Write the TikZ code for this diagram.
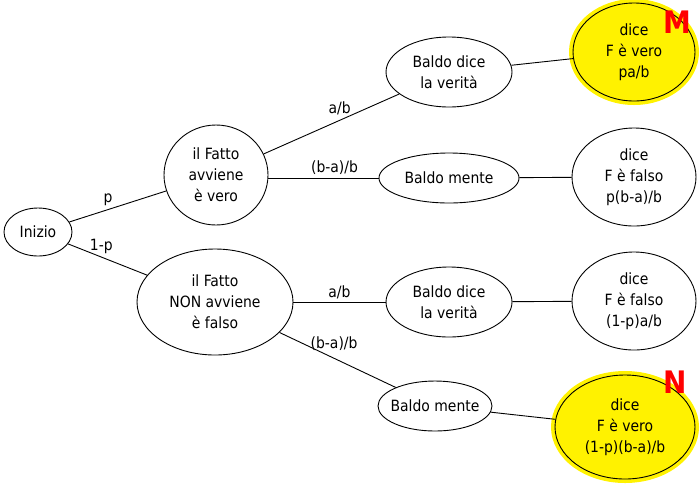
\documentclass[tikz,border=0pt]{standalone}
\usepackage{fontspec}
\setmainfont{DejaVu Sans Condensed}
\usepackage{tikz}
\usetikzlibrary{shapes.geometric}
\tikzset{
  ev/.style={draw=black,line width=0.9pt,ellipse,inner sep=0pt,align=center,font=\fontsize{15.5}{21}\selectfont},
  hit/.style={ev,fill=yellow,preaction={draw=yellow,line width=8pt}},
  lnk/.style={line width=0.9pt},
  prob/.style={font=\fontsize{15.5}{17}\selectfont,inner sep=3pt},
  tag/.style={text=red,font=\fontsize{31}{31}\selectfont\bfseries},
}
\begin{document}
\begin{tikzpicture}[x=1pt,y=-1pt]
  \useasboundingbox (0,0) rectangle (700,483);
  % start and the two branches
  \node[ev,minimum width=68pt,minimum height=48pt] (start) at (38,232) {Inizio};
  \node[ev,minimum width=104pt,minimum height=100pt] (vero) at (216,175) {il Fatto\\avviene\\è vero};
  \node[ev,minimum width=156pt,minimum height=106pt] (falso) at (215,302) {il Fatto\\NON avviene\\è falso};
  % what Baldo says
  \node[ev,minimum width=126pt,minimum height=70pt] (vdice) at (449,72) {Baldo dice\\la verità};
  \node[ev,minimum width=140pt,minimum height=50pt] (vmente) at (449,178) {Baldo mente};
  \node[ev,minimum width=126pt,minimum height=70pt] (fdice) at (449,302) {Baldo dice\\la verità};
  \node[ev,inner xsep=-5pt,minimum width=114pt,minimum height=50pt] (fmente) at (435,406) {Baldo mente};
  % outcomes
  \node[hit,minimum width=122pt,minimum height=98pt] (outM) at (634,52) {dice\\F è vero\\pa/b};
  \node[ev,minimum width=124pt,minimum height=98pt] (out2) at (634,177) {dice\\F è falso\\p(b-a)/b};
  \node[ev,minimum width=124pt,minimum height=98pt] (out3) at (634,301) {dice\\F è falso\\(1-p)a/b};
  \node[hit,minimum width=140pt,minimum height=104pt] (outN) at (625,427) {dice\\F è vero\\(1-p)(b-a)/b};
  \node[tag] (tagM) at (677,22) {M};
  \node[tag] (tagN) at (675,382) {N};
  \draw[lnk] (start) -- node[prob,pos=0.4,above] {p} (vero);
  \draw[lnk] (start) -- node[prob,pos=0.42,above] {1-p} (falso);
  \draw[lnk] (vero) -- node[prob,pos=0.56,above,yshift=2pt] {a/b} (vdice);
  \draw[lnk] (vero.east|-vmente) -- node[prob,pos=0.6,above] {(b-a)/b} (vmente);
  \draw[lnk] (falso) -- node[prob,midway,above] {a/b} (fdice);
  \draw[lnk] (falso) -- node[prob,pos=0.47,above,yshift=4pt] {(b-a)/b} (fmente);
  \draw[lnk] (vdice) -- (outM);
  \draw[lnk] (vmente) -- (out2);
  \draw[lnk] (fdice) -- (out3);
  \draw[lnk] (fmente) -- (outN);
\end{tikzpicture}
\end{document}
